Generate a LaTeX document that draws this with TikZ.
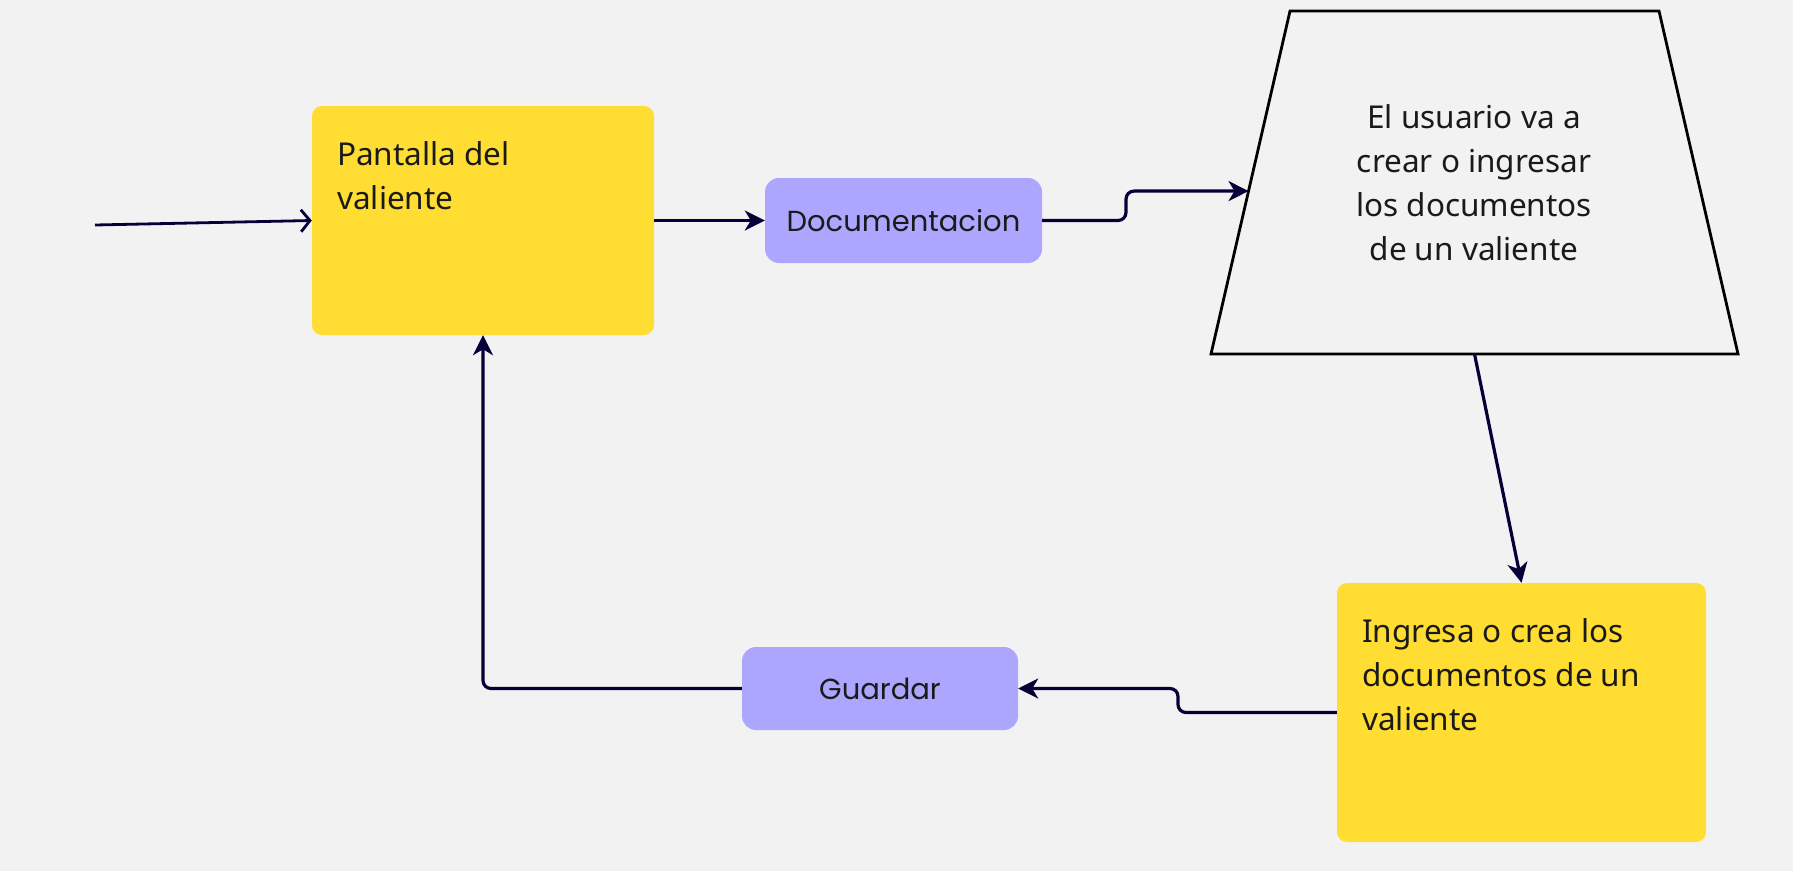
\documentclass[tikz,border=0pt]{standalone}
\usepackage{fontspec}
\setmainfont{Noto Sans}
\newfontfamily\popfont{Poppins}
\usetikzlibrary{arrows.meta,calc}
\definecolor{bgc}{HTML}{F2F2F2}
\definecolor{ylw}{HTML}{FFDD33}
\definecolor{lav}{HTML}{ADA6FE}
\definecolor{navy}{HTML}{050038}
\definecolor{txt}{HTML}{1A1A1A}
\tikzset{
  ybox/.style={fill=ylw, rounded corners=10pt, inner sep=0pt},
  pbox/.style={fill=lav, rounded corners=14pt, inner sep=0pt, text=txt,
    font=\popfont\fontsize{29}{33}\selectfont},
  btext/.style={inner sep=0pt, text=txt, align=left,
    font=\fontsize{31.5}{44}\selectfont},
  trapline/.style={draw=black, line width=2.8pt, line join=miter},
  conn/.style={draw=navy, line width=3.2pt, rounded corners=8pt,
    -{Stealth[length=20pt,width=20pt,inset=6pt]}},
  openconn/.style={draw=navy, line width=2.8pt,
    -{Straight Barb[length=9pt,width=22pt]}}
}
\begin{document}
\begin{tikzpicture}[x=1pt,y=-1pt]
\useasboundingbox[fill=bgc] (0,0) rectangle (1793,871);
% trapezoid
\coordinate (tl) at (1290,11);
\coordinate (tr) at (1659,11);
\coordinate (br) at (1738,354);
\coordinate (bl) at (1211,354);
\draw[trapline] (tl) -- (tr) -- (br) -- (bl) -- cycle;
\node[btext, align=center] (trap) at (1474,183) {El usuario va a\\crear o ingresar\\los documentos\\de un valiente};
% boxes
\node[ybox, minimum width=342pt, minimum height=229pt] (y1) at (483,220.5) {};
\node[btext, anchor=north west] (t1) at (337,141) {Pantalla del\\valiente};
\node[pbox, minimum width=277pt, minimum height=85pt] (doc) at (903.5,220.5) {Documentacion};
\node[ybox, minimum width=369pt, minimum height=259pt] (y2) at (1521.5,712.5) {};
\node[btext, anchor=north west] (t3) at (1362,618) {Ingresa o crea los\\documentos de un\\valiente};
\node[pbox, minimum width=276pt, minimum height=83pt] (g) at (880,688.5) {Guardar};
% connectors
\coordinate (start) at (95,225);
\coordinate (s1) at (1126,0);
\coordinate (s2) at (1178,0);
\coordinate (trapend) at ($(tl)!0.525!(bl)$);
\coordinate (trapbot) at ($(bl)!0.5!(br)$);
\draw[openconn] (start) -- (y1.west);
\draw[conn] (y1.east) -- (doc.west);
\draw[conn] (doc.east) -| (s1 |- trapend) -- (trapend);
\draw[conn] (trapbot) -- (y2.north);
\draw[conn] (y2.west) -| (s2 |- g.east) -- (g.east);
\draw[conn] (g.west) -| (y1.south);
\end{tikzpicture}
\end{document}
